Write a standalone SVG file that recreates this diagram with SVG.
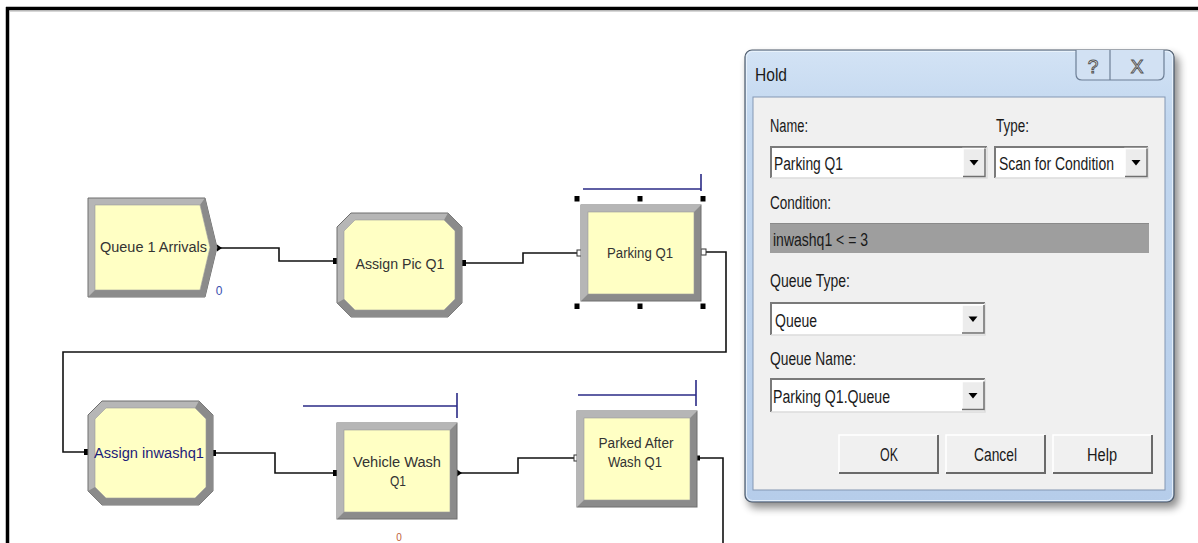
<svg xmlns="http://www.w3.org/2000/svg" xmlns:xlink="http://www.w3.org/1999/xlink" width="1198" height="543" viewBox="0 0 1198 543">
  <style>
    .lbl { font-family: "Liberation Sans", Arial, sans-serif; font-size: 15.5px; fill: #333333; }
    .lbl-blue { fill: #1c1c7a; }
    .cnt { font-family: "Liberation Sans", Arial, sans-serif; font-size: 12px; }
    .wire { fill: none; stroke: #111111; stroke-width: 1.6; }
    .qline { fill: none; stroke: #2a2a86; stroke-width: 1.6; }
    .dlg { font-family: "Liberation Sans", Arial, sans-serif; font-size: 18px; fill: #1a1a1a; }
    .field { fill: #ffffff; }
    .sunk-dark { fill: none; stroke: #7a7a7a; stroke-width: 2; }
    .sunk-light { fill: none; stroke: #dcdcdc; stroke-width: 1.5; }
    .btn-face { fill: #f0f0f0; }
    .handle { fill: #000000; }
  </style>
  <defs>
    <!-- Create module: box with a chevron exit side -->
    <g id="createShape">
      <polygon points="0,0 117,0 129,49.5 117,99 0,99" fill="#b6b6b6" stroke="#6e6e6e" stroke-width="1"/>
      <polygon points="117,0 129,49.5 117,99 0,99 7,92 112,92 122,49.5 112,7" fill="#8b8b8b"/>
      <polygon points="7,7 112,7 122,49.5 112,92 7,92" fill="#ffffc4" stroke="#9a9a9a" stroke-width="0.6"/>
    </g>
    <!-- Assign module: bevelled octagon -->
    <g id="assignShape">
      <polygon points="14,0 111,0 125,14 125,90 111,104 14,104 0,90 0,14" fill="#b6b6b6" stroke="#6e6e6e" stroke-width="1"/>
      <polygon points="111,0 125,14 125,90 111,104 14,104 0,90 7,86 18,97 107,97 118,86 118,18 107,7" fill="#8b8b8b"/>
      <polygon points="18,7 107,7 118,18 118,86 107,97 18,97 7,86 7,18" fill="#ffffc4" stroke="#9a9a9a" stroke-width="0.6"/>
    </g>
    <!-- Process / Hold module: bevelled rectangle -->
    <g id="boxShape">
      <rect x="0" y="0" width="120" height="96" fill="#8b8b8b" stroke="#6e6e6e" stroke-width="1"/>
      <polygon points="0,0 120,0 113,7 7,7 7,89 0,96" fill="#b6b6b6"/>
      <rect x="7" y="7" width="106" height="82" fill="#ffffc4" stroke="#9a9a9a" stroke-width="0.6"/>
    </g>
    <!-- dropdown arrow button -->
    <g id="ddButton">
      <rect x="0" y="0" width="22" height="28" fill="#ececec"/>
      <polyline points="0,28 0,0 22,0" fill="none" stroke="#ffffff" stroke-width="1.5"/>
      <polyline points="0,28 22,28 22,0" fill="none" stroke="#6f6f6f" stroke-width="1.5"/>
      <polygon points="6.5,11.5 15.5,11.5 11,17" fill="#000000"/>
    </g>
    <filter id="dropShadow" x="-10%" y="-10%" width="120%" height="120%">
      <feGaussianBlur stdDeviation="4"/>
    </filter>
    <linearGradient id="frameGrad" x1="0" y1="0" x2="0" y2="1">
      <stop offset="0" stop-color="#d3e3f5"/>
      <stop offset="0.15" stop-color="#c2d7ef"/>
      <stop offset="1" stop-color="#b6cdea"/>
    </linearGradient>
  </defs>

  <!-- page background and window border -->
  <rect x="0" y="0" width="1198" height="543" fill="#ffffff"/>
  <line x1="6" y1="8.5" x2="1198" y2="8.5" stroke="#000000" stroke-width="3.5"/>
  <line x1="7.5" y1="7" x2="7.5" y2="543" stroke="#000000" stroke-width="3.5"/>
  <line x1="10" y1="11" x2="1198" y2="11" stroke="#b0b0b0" stroke-width="1"/>

  <!-- connectors -->
  <g id="connectors">
    <polyline class="wire" points="218,248 279,248 279,261 336,261"/>
    <polyline class="wire" points="462,263 523,263 523,253 580,253"/>
    <polyline class="wire" points="702,252 726,252 726,352 63,352 63,452 87,452"/>
    <polyline class="wire" points="212,453 275,453 275,473 336,473"/>
    <polyline class="wire" points="458,473 518,473 518,458 577,458"/>
    <polyline class="wire" points="697,458 723,458 723,543"/>
    <!-- exit / entry points -->
    <polygon points="217,244.5 222,248 217,251.5" fill="#000"/>
    <rect x="333" y="258" width="5" height="6" fill="#000"/>
    <rect x="462" y="260" width="4" height="6" fill="#000"/>
    <rect x="577" y="250" width="5" height="6" fill="#ffffff" stroke="#333" stroke-width="1"/>
    <rect x="701" y="249" width="5" height="6" fill="#ffffff" stroke="#333" stroke-width="1"/>
    <rect x="84" y="449" width="5" height="6" fill="#000"/>
    <rect x="212" y="450" width="4" height="6" fill="#000"/>
    <rect x="333" y="470" width="5" height="6" fill="#000"/>
    <polygon points="457,469.5 462,473 457,476.5" fill="#000"/>
    <rect x="574" y="455" width="5" height="6" fill="#ffffff" stroke="#333" stroke-width="1"/>
    <rect x="697" y="455.5" width="3" height="5" fill="#000"/>
  </g>

  <!-- Queue 1 Arrivals (create) -->
  <g id="node-queue1-arrivals">
    <use xlink:href="#createShape" x="88" y="198"/>
    <text class="lbl" x="153.5" y="252" text-anchor="middle" textLength="107" lengthAdjust="spacingAndGlyphs">Queue 1 Arrivals</text>
    <text class="cnt" x="219" y="295" fill="#3a4fb0" text-anchor="middle">0</text>
  </g>

  <!-- Assign Pic Q1 -->
  <g id="node-assign-pic">
    <use xlink:href="#assignShape" x="337" y="213"/>
    <text class="lbl" x="400" y="269" text-anchor="middle" textLength="89" lengthAdjust="spacingAndGlyphs">Assign Pic Q1</text>
  </g>

  <!-- Parking Q1 (hold, selected) -->
  <g id="node-parking-q1">
    <polyline class="qline" points="583,189 701,189"/>
    <line class="qline" x1="701" y1="174" x2="701" y2="191"/>
    <use xlink:href="#boxShape" x="581" y="205"/>
    <text class="lbl" x="640" y="258" text-anchor="middle" textLength="66" lengthAdjust="spacingAndGlyphs">Parking Q1</text>
    <rect class="handle" x="574.5" y="196" width="5" height="5.5"/>
    <rect class="handle" x="637.5" y="196" width="5" height="5.5"/>
    <rect class="handle" x="700.5" y="196" width="5" height="5.5"/>
    <rect class="handle" x="574.5" y="303.5" width="5" height="5.5"/>
    <rect class="handle" x="637.5" y="303.5" width="5" height="5.5"/>
    <rect class="handle" x="700.5" y="303.5" width="5" height="5.5"/>
  </g>

  <!-- Assign inwashq1 -->
  <g id="node-assign-inwashq1">
    <use xlink:href="#assignShape" x="88" y="401"/>
    <text class="lbl lbl-blue" x="149" y="458" text-anchor="middle" textLength="110" lengthAdjust="spacingAndGlyphs">Assign inwashq1</text>
  </g>

  <!-- Vehicle Wash Q1 (process) -->
  <g id="node-vehicle-wash">
    <polyline class="qline" points="303,406 457,406"/>
    <line class="qline" x1="457" y1="393" x2="457" y2="418"/>
    <use xlink:href="#boxShape" x="337" y="423"/>
    <text class="lbl" x="397" y="467" text-anchor="middle" textLength="88" lengthAdjust="spacingAndGlyphs">Vehicle Wash</text>
    <text class="lbl" x="398" y="486" text-anchor="middle" textLength="16" lengthAdjust="spacingAndGlyphs">Q1</text>
    <text x="399" y="541" fill="#c0603c" text-anchor="middle" font-family="'Liberation Sans', Arial, sans-serif" font-size="10">0</text>
  </g>

  <!-- Parked After Wash Q1 (hold) -->
  <g id="node-parked-after-wash">
    <polyline class="qline" points="578,395 696,395"/>
    <line class="qline" x1="696" y1="380" x2="696" y2="406"/>
    <use xlink:href="#boxShape" x="577" y="411"/>
    <text class="lbl" x="636" y="448" text-anchor="middle" textLength="75" lengthAdjust="spacingAndGlyphs">Parked After</text>
    <text class="lbl" x="635" y="467" text-anchor="middle" textLength="54" lengthAdjust="spacingAndGlyphs">Wash Q1</text>
  </g>

  <!-- Hold properties dialog -->
  <g id="hold-dialog">
    <rect x="748" y="55" width="431" height="453" rx="8" fill="#000000" opacity="0.45" filter="url(#dropShadow)"/>
    <rect x="745" y="50" width="429" height="452" rx="7" fill="url(#frameGrad)" stroke="#4e5b6b" stroke-width="1.2"/>
    <rect x="746.5" y="51.5" width="426" height="449" rx="6" fill="none" stroke="#eef5fd" stroke-width="1" opacity="0.8"/>
    <text class="dlg" x="755" y="81" fill="#333333" textLength="32" lengthAdjust="spacingAndGlyphs">Hold</text>

    <!-- caption buttons -->
    <path d="M1076,50 L1076,74 Q1076,80 1082,80 L1158,80 Q1164,80 1164,74 L1164,50" fill="#d2e1f3" stroke="#6d7f96" stroke-width="1.2"/>
    <line x1="1110" y1="50" x2="1110" y2="80" stroke="#6d7f96" stroke-width="1.2"/>
    <text x="1093" y="73" text-anchor="middle" font-family="'Liberation Sans', Arial, sans-serif" font-size="19" fill="#ffffff" stroke="#555555" stroke-width="1">?</text>
    <text x="1137" y="73" text-anchor="middle" font-family="'Liberation Sans', Arial, sans-serif" font-size="19" fill="#ffffff" stroke="#555555" stroke-width="1">X</text>

    <!-- client area -->
    <rect x="753" y="97" width="412" height="393" fill="#f0f0f0" stroke="#8397b3" stroke-width="1"/>

    <text class="dlg" x="770" y="132" textLength="38" lengthAdjust="spacingAndGlyphs">Name:</text>
    <text class="dlg" x="996" y="132" textLength="33" lengthAdjust="spacingAndGlyphs">Type:</text>

    <!-- Name combo -->
    <rect class="field" x="770" y="146" width="217" height="32"/>
    <polyline class="sunk-dark" points="771,178 771,147 987,147"/>
    <polyline class="sunk-light" points="771,178 987,178 987,147"/>
    <use xlink:href="#ddButton" x="963" y="148.5"/>
    <text class="dlg" x="774" y="170" textLength="69" lengthAdjust="spacingAndGlyphs">Parking Q1</text>

    <!-- Type combo -->
    <rect class="field" x="994" y="146" width="154" height="32"/>
    <polyline class="sunk-dark" points="995,178 995,147 1148,147"/>
    <polyline class="sunk-light" points="995,178 1148,178 1148,147"/>
    <use xlink:href="#ddButton" x="1125" y="148.5"/>
    <text class="dlg" x="999" y="170" textLength="115" lengthAdjust="spacingAndGlyphs">Scan for Condition</text>

    <text class="dlg" x="770" y="209" textLength="61" lengthAdjust="spacingAndGlyphs">Condition:</text>

    <!-- Condition field (disabled) -->
    <rect x="770" y="223" width="379" height="30" fill="#9e9e9e"/>
    <line x1="770" y1="223.5" x2="1149" y2="223.5" stroke="#8a8a8a" stroke-width="1"/>
    <text class="dlg" x="773" y="246" fill="#e6e6e6" textLength="95" lengthAdjust="spacingAndGlyphs">inwashq1 &lt; = 3</text>

    <text class="dlg" x="770" y="287" textLength="80" lengthAdjust="spacingAndGlyphs">Queue Type:</text>

    <!-- Queue Type combo -->
    <rect class="field" x="770" y="302" width="215" height="33"/>
    <polyline class="sunk-dark" points="771,335 771,303 985,303"/>
    <polyline class="sunk-light" points="771,335 985,335 985,303"/>
    <use xlink:href="#ddButton" x="962" y="305"/>
    <text class="dlg" x="775" y="327" textLength="42" lengthAdjust="spacingAndGlyphs">Queue</text>

    <text class="dlg" x="770" y="365" textLength="86" lengthAdjust="spacingAndGlyphs">Queue Name:</text>

    <!-- Queue Name combo -->
    <rect class="field" x="770" y="378" width="215" height="34"/>
    <polyline class="sunk-dark" points="771,412 771,379 985,379"/>
    <polyline class="sunk-light" points="771,412 985,412 985,379"/>
    <use xlink:href="#ddButton" x="962" y="381.5"/>
    <text class="dlg" x="773" y="403" textLength="117" lengthAdjust="spacingAndGlyphs">Parking Q1.Queue</text>

    <!-- push buttons -->
    <g id="btn-ok">
      <rect class="btn-face" x="839" y="435" width="99" height="38"/>
      <polyline points="839,473 839,435 938,435" fill="none" stroke="#ffffff" stroke-width="1.5"/>
      <polyline points="839,473 938,473 938,435" fill="none" stroke="#6a6a6a" stroke-width="2"/>
      <text class="dlg" x="889" y="461" text-anchor="middle" textLength="18" lengthAdjust="spacingAndGlyphs">OK</text>
    </g>
    <g id="btn-cancel">
      <rect class="btn-face" x="946" y="435" width="99" height="38"/>
      <polyline points="946,473 946,435 1045,435" fill="none" stroke="#ffffff" stroke-width="1.5"/>
      <polyline points="946,473 1045,473 1045,435" fill="none" stroke="#6a6a6a" stroke-width="2"/>
      <text class="dlg" x="995.5" y="461" text-anchor="middle" textLength="43" lengthAdjust="spacingAndGlyphs">Cancel</text>
    </g>
    <g id="btn-help">
      <rect class="btn-face" x="1053" y="435" width="99" height="38"/>
      <polyline points="1053,473 1053,435 1152,435" fill="none" stroke="#ffffff" stroke-width="1.5"/>
      <polyline points="1053,473 1152,473 1152,435" fill="none" stroke="#6a6a6a" stroke-width="2"/>
      <text class="dlg" x="1102" y="461" text-anchor="middle" textLength="30" lengthAdjust="spacingAndGlyphs">Help</text>
    </g>
  </g>
</svg>
